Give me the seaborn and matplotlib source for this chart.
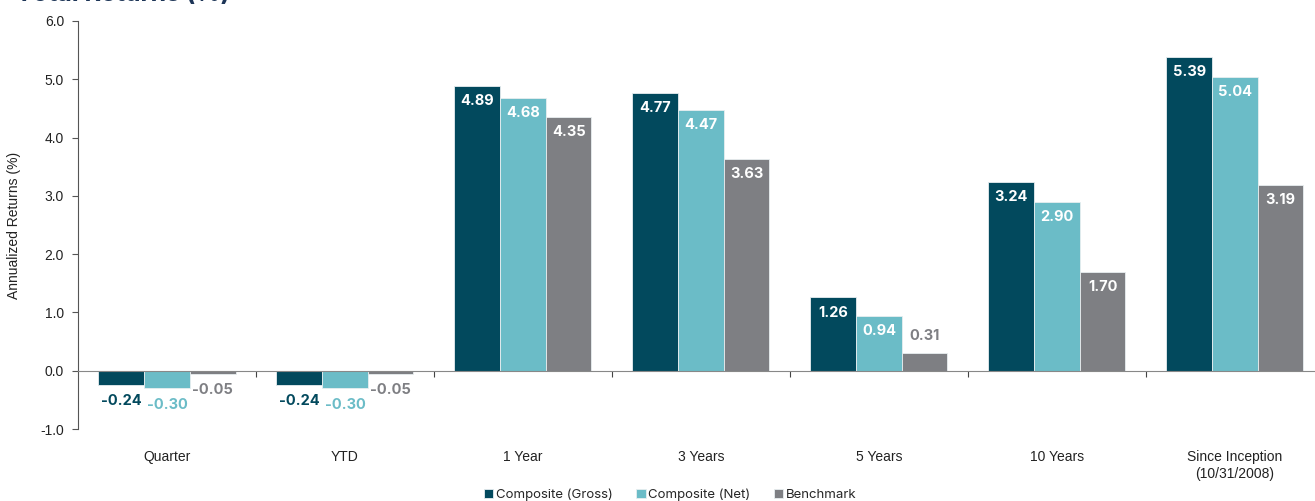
import pandas as pd
import matplotlib.pyplot as plt
import seaborn as sns

periods = ["Quarter", "YTD", "1 Year", "3 Years", "5 Years", "10 Years",
           "Since Inception\n(10/31/2008)"]
series = ["Composite (Gross)", "Composite (Net)", "Benchmark"]
gross = [-0.24, -0.24, 4.89, 4.77, 1.26, 3.24, 5.39]
net = [-0.30, -0.30, 4.68, 4.47, 0.94, 2.90, 5.04]
bench = [-0.05, -0.05, 4.35, 3.63, 0.31, 1.70, 3.19]
colors = ["#02495d", "#6bbcc7", "#7e7f83"]

df = pd.DataFrame({
    "period": periods * 3,
    "series": [s for s in series for _ in periods],
    "value": gross + net + bench,
})

sns.set_style("white")
plt.rcParams["font.family"] = ["Liberation Sans", "DejaVu Sans"]

fig = plt.figure(figsize=(13.15, 5.01), dpi=100)
ax = fig.add_axes([0.0593, 0.1437, 0.9475, 0.8144])

sns.barplot(data=df, x="period", y="value", hue="series", order=periods,
            hue_order=series, palette=colors, width=0.77, saturation=1,
            edgecolor="#e8eef0", linewidth=0.6, ax=ax, legend=True)

ax.set_xlim(-0.5, 6.5)
ax.set_ylim(-1.0, 6.0)
ax.set_yticks([-1, 0, 1, 2, 3, 4, 5, 6])
ax.set_yticklabels([f"{v:.1f}" for v in range(-1, 7)], fontsize=10, color="#222222")
ax.tick_params(axis="y", length=4, width=0.8, color="#555555", left=True, pad=6)
ax.set_ylabel("Annualized Returns (%)", fontsize=10, color="#222222", labelpad=14)
ax.set_xlabel("")

# x axis line sits at zero, labels at the bottom
ax.spines["bottom"].set_position(("data", 0))
ax.spines["bottom"].set_color("#888888")
ax.spines["left"].set_color("#555555")
ax.spines["left"].set_linewidth(0.8)
ax.spines["top"].set_visible(False)
ax.spines["right"].set_visible(False)
ax.set_xticks(range(len(periods)))
ax.set_xticklabels(periods, fontsize=10, color="#222222", linespacing=1.3)
ax.tick_params(axis="x", length=0, pad=57, bottom=True)
ax.set_xticks([i + 0.5 for i in range(len(periods))], minor=True)
ax.tick_params(axis="x", which="minor", length=4, width=0.8, color="#444444", bottom=True)

label_font = ["Inter", "DejaVu Sans"]
for cont, col in zip(ax.containers, colors):
    for bar in cont:
        v = bar.get_height()
        x = bar.get_x() + bar.get_width() / 2
        txt = f"{v:.2f}"
        if v < 0:
            ax.annotate(txt, (x, v), xytext=(0, -12), textcoords="offset points",
                        ha="center", va="center", fontsize=10.5, fontweight="bold",
                        color=col, family=label_font)
        elif v < 0.5:
            ax.annotate(txt, (x, v), xytext=(0, 12), textcoords="offset points",
                        ha="center", va="center", fontsize=10.5, fontweight="bold",
                        color=col, family=label_font)
        else:
            ax.annotate(txt, (x, v), xytext=(0, -11), textcoords="offset points",
                        ha="center", va="center", fontsize=10.5, fontweight="bold",
                        color="white", family=label_font)

handles, labels = ax.get_legend_handles_labels()
ax.legend(handles, labels, loc="lower center", bbox_to_anchor=(0.5 - 0.0593 / 2 + 0.005, -0.205),
          ncol=3, frameon=False, handlelength=0.7, handleheight=0.7,
          handletextpad=0.2, columnspacing=1.8, prop={"family": label_font, "size": 9.5})

fig.text(0.012, 1 - 0.5 / 501, "Total Returns (%)", fontsize=18, fontweight="bold",
         color="#1d3557", family=label_font, va="baseline")

fig.savefig("out.png", dpi=100)
